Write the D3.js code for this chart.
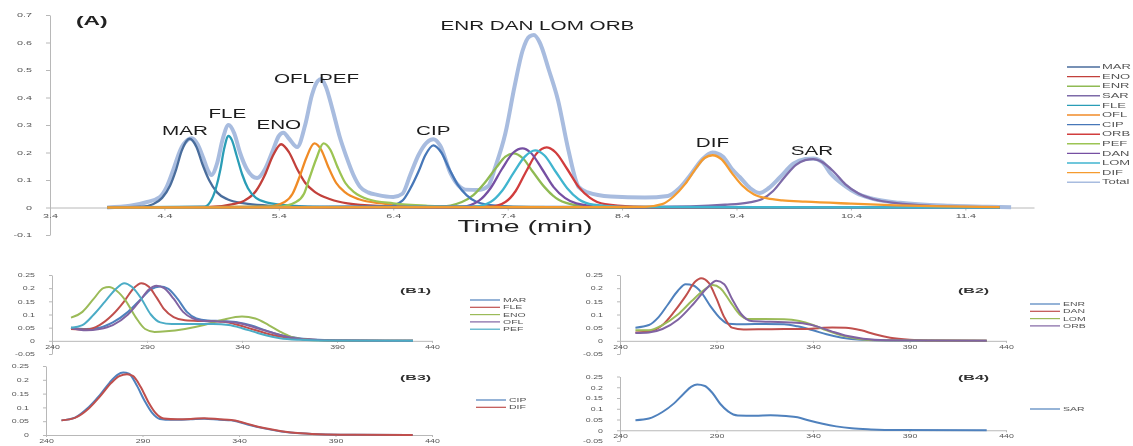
<!DOCTYPE html>
<html>
<head>
<meta charset="utf-8">
<script src="https://cdn.jsdelivr.net/npm/d3@7"></script>
<style>
  body { margin: 0; background: #fff; }
  text { font-family: "Liberation Sans", Arial, sans-serif; }
</style>
</head>
<body>
<svg id="chart" width="1133" height="446"></svg>
<script>
// ---------- panel (A): chromatogram, [time (min), absorbance] ----------
const xTicksA = [3.4, 4.4, 5.4, 6.4, 7.4, 8.4, 9.4, 10.4, 11.4];
const yTicksA = [-0.1, 0, 0.1, 0.2, 0.3, 0.4, 0.5, 0.6, 0.7];
const namesA = ["MAR", "ENO", "ENR", "SAR", "FLE", "OFL", "CIP", "ORB", "PEF", "DAN", "LOM", "DIF", "Total"];

const marA = [[3.9,0],[4.2,0.003],[4.3,0.012],[4.38,0.035],[4.45,0.08],[4.5,0.135],[4.55,0.205],[4.62,0.25],[4.68,0.22],[4.73,0.16],[4.79,0.1],[4.86,0.055],[4.95,0.03],[5.1,0.015],[5.3,0.007],[5.6,0.002],[6,0],[11.7,0]];
const enoA = [[3.9,0],[4.8,0.002],[5.0,0.012],[5.1,0.025],[5.2,0.06],[5.28,0.12],[5.35,0.19],[5.42,0.23],[5.49,0.2],[5.56,0.14],[5.63,0.09],[5.72,0.055],[5.85,0.03],[6.0,0.015],[6.3,0.005],[6.7,0.001],[11.7,0]];
const enrA = [[3.9,0],[6.8,0.003],[7.0,0.02],[7.1,0.045],[7.2,0.09],[7.3,0.145],[7.38,0.185],[7.45,0.197],[7.53,0.18],[7.62,0.13],[7.72,0.075],[7.82,0.035],[7.95,0.012],[8.1,0.004],[8.4,0.001],[11.7,0]];
const sarA = [[3.9,0],[8.4,0.001],[9.0,0.004],[9.3,0.01],[9.5,0.018],[9.62,0.03],[9.72,0.06],[9.82,0.11],[9.92,0.155],[10.0,0.172],[10.07,0.176],[10.15,0.165],[10.25,0.13],[10.35,0.085],[10.47,0.05],[10.6,0.03],[10.8,0.016],[11.1,0.006],[11.4,0.002],[11.7,0]];
const fleA = [[3.9,0],[4.75,0.003],[4.8,0.02],[4.85,0.07],[4.89,0.14],[4.92,0.21],[4.96,0.26],[4.99,0.245],[5.03,0.19],[5.08,0.12],[5.13,0.07],[5.2,0.035],[5.3,0.018],[5.5,0.007],[5.8,0.002],[11.7,0]];
const oflA = [[3.9,0],[5.3,0.003],[5.45,0.02],[5.52,0.05],[5.58,0.11],[5.64,0.18],[5.71,0.233],[5.77,0.21],[5.83,0.15],[5.9,0.09],[5.98,0.055],[6.1,0.03],[6.3,0.015],[6.6,0.006],[7.0,0.002],[11.7,0]];
const cipA = [[3.9,0],[6.35,0.003],[6.48,0.025],[6.55,0.07],[6.62,0.13],[6.68,0.19],[6.75,0.226],[6.82,0.2],[6.89,0.14],[6.96,0.085],[7.04,0.045],[7.13,0.02],[7.3,0.007],[7.6,0.002],[11.7,0]];
const orbA = [[3.9,0],[7.25,0.003],[7.38,0.02],[7.47,0.06],[7.56,0.13],[7.65,0.195],[7.74,0.219],[7.82,0.2],[7.92,0.14],[8.02,0.075],[8.12,0.035],[8.25,0.012],[8.5,0.003],[8.8,0.001],[11.7,0]];
const pefA = [[3.9,0],[5.4,0.003],[5.55,0.02],[5.62,0.05],[5.67,0.11],[5.73,0.18],[5.79,0.233],[5.85,0.21],[5.91,0.15],[5.98,0.09],[6.06,0.055],[6.18,0.03],[6.4,0.015],[6.7,0.006],[7.1,0.002],[11.7,0]];
const danA = [[3.9,0],[7.0,0.003],[7.15,0.025],[7.25,0.07],[7.35,0.14],[7.45,0.2],[7.53,0.215],[7.6,0.2],[7.7,0.14],[7.8,0.075],[7.9,0.035],[8.0,0.015],[8.2,0.004],[8.5,0.001],[11.7,0]];
const lomA = [[3.9,0],[7.1,0.003],[7.25,0.02],[7.35,0.06],[7.45,0.125],[7.55,0.185],[7.64,0.208],[7.72,0.19],[7.82,0.13],[7.92,0.07],[8.02,0.03],[8.15,0.01],[8.4,0.002],[11.7,0]];
const difA = [[3.9,0],[8.6,0.002],[8.75,0.012],[8.85,0.04],[8.95,0.085],[9.05,0.145],[9.12,0.18],[9.19,0.19],[9.27,0.175],[9.36,0.125],[9.45,0.08],[9.55,0.048],[9.67,0.033],[9.8,0.026],[10.0,0.021],[10.4,0.014],[10.8,0.008],[11.2,0.004],[11.7,0.001]];
const totalA = [[3.9,0],[4.1,0.006],[4.25,0.02],[4.36,0.038],[4.42,0.075],[4.48,0.14],[4.54,0.21],[4.6,0.245],[4.64,0.252],[4.69,0.23],[4.74,0.18],[4.78,0.135],[4.81,0.118],[4.86,0.16],[4.91,0.25],[4.96,0.3],[5.01,0.27],[5.06,0.2],[5.12,0.14],[5.21,0.107],[5.28,0.14],[5.35,0.21],[5.4,0.26],[5.44,0.272],[5.49,0.25],[5.56,0.22],[5.63,0.3],[5.69,0.41],[5.74,0.46],[5.77,0.467],[5.81,0.44],[5.87,0.355],[5.93,0.26],[5.99,0.185],[6.05,0.12],[6.11,0.075],[6.18,0.055],[6.26,0.046],[6.4,0.038],[6.48,0.05],[6.55,0.12],[6.62,0.19],[6.69,0.235],[6.75,0.248],[6.81,0.225],[6.9,0.125],[6.97,0.08],[7.03,0.065],[7.15,0.064],[7.23,0.078],[7.29,0.145],[7.38,0.27],[7.46,0.44],[7.53,0.57],[7.59,0.622],[7.63,0.627],[7.68,0.6],[7.76,0.5],[7.84,0.39],[7.93,0.21],[8.02,0.075],[8.1,0.055],[8.3,0.04],[8.6,0.036],[8.8,0.042],[8.9,0.07],[9.0,0.12],[9.1,0.175],[9.19,0.2],[9.28,0.185],[9.36,0.14],[9.43,0.11],[9.52,0.07],[9.6,0.053],[9.68,0.07],[9.78,0.11],[9.9,0.16],[10.0,0.176],[10.07,0.178],[10.15,0.165],[10.22,0.125],[10.35,0.078],[10.45,0.052],[10.57,0.034],[10.83,0.017],[11.27,0.006],[11.6,0.003],[11.8,0.001]];

const peakLabels = ["MAR", "FLE", "ENO", "OFL PEF", "CIP", "ENR DAN LOM ORB", "DIF", "SAR"];
const peakLabelAt = [[4.58,0.264],[4.95,0.325],[5.4,0.285],[5.73,0.453],[6.75,0.264],[7.66,0.645],[9.19,0.22],[10.06,0.19]];

// ---------- panels (B1-B4): UV spectra, [wavelength (nm), absorbance] ----------
const xTicksB = [240, 290, 340, 390, 440];
const yTicksB = [-0.05, 0, 0.05, 0.1, 0.15, 0.2, 0.25];
const yTicksB3 = [0, 0.05, 0.1, 0.15, 0.2, 0.25];

const namesB1 = ["MAR", "FLE", "ENO", "OFL", "PEF"];
const marB1 = [[250,0.05],[258,0.045],[265,0.05],[272,0.07],[280,0.11],[287,0.16],[292,0.195],[297,0.206],[301,0.198],[306,0.16],[311,0.11],[316,0.085],[322,0.077],[330,0.075],[338,0.07],[345,0.058],[352,0.04],[360,0.022],[370,0.01],[380,0.004],[395,0.001],[430,0]];
const fleB1 = [[250,0.045],[258,0.043],[265,0.06],[272,0.1],[278,0.15],[283,0.2],[287,0.219],[291,0.205],[295,0.165],[299,0.12],[304,0.09],[310,0.078],[320,0.075],[330,0.072],[338,0.06],[345,0.045],[352,0.03],[360,0.016],[370,0.007],[380,0.003],[395,0.001],[430,0]];
const enoB1 = [[250,0.088],[256,0.11],[262,0.16],[267,0.2],[270,0.204],[274,0.19],[279,0.15],[284,0.09],[289,0.045],[294,0.034],[300,0.036],[310,0.045],[320,0.06],[330,0.08],[340,0.092],[347,0.085],[354,0.06],[360,0.035],[366,0.015],[372,0.006],[380,0.002],[400,0],[430,0]];
const oflB1 = [[250,0.05],[258,0.04],[265,0.045],[272,0.06],[280,0.1],[286,0.15],[291,0.195],[295,0.209],[299,0.2],[304,0.16],[309,0.11],[314,0.085],[320,0.075],[330,0.073],[340,0.065],[347,0.05],[355,0.033],[362,0.018],[370,0.008],[380,0.003],[395,0.001],[430,0]];
const pefB1 = [[250,0.05],[256,0.06],[262,0.1],[268,0.15],[274,0.2],[278,0.219],[282,0.205],[287,0.16],[292,0.1],[297,0.07],[303,0.064],[315,0.064],[325,0.064],[333,0.06],[340,0.048],[346,0.035],[353,0.02],[360,0.01],[370,0.004],[385,0.001],[430,0]];

const namesB2 = ["ENR", "DAN", "LOM", "ORB"];
const enrB2 = [[248,0.05],[255,0.06],[260,0.09],[265,0.14],[270,0.19],[274,0.215],[278,0.21],[282,0.185],[287,0.13],[292,0.085],[296,0.065],[305,0.063],[315,0.064],[325,0.063],[332,0.055],[340,0.04],[347,0.025],[355,0.012],[365,0.004],[380,0.001],[430,0]];
const danB2 = [[248,0.032],[255,0.035],[262,0.06],[268,0.11],[274,0.17],[279,0.225],[282,0.238],[286,0.22],[290,0.16],[294,0.09],[298,0.05],[304,0.043],[315,0.044],[325,0.045],[335,0.045],[343,0.048],[350,0.051],[357,0.05],[365,0.04],[372,0.025],[380,0.012],[390,0.004],[400,0.001],[430,0]];
const lomB2 = [[248,0.04],[255,0.04],[262,0.06],[270,0.1],[277,0.15],[283,0.19],[288,0.212],[292,0.2],[297,0.15],[302,0.1],[306,0.083],[315,0.083],[325,0.082],[333,0.075],[340,0.06],[347,0.04],[355,0.02],[363,0.008],[375,0.002],[430,0]];
const orbB2 = [[248,0.03],[255,0.032],[262,0.045],[270,0.08],[278,0.14],[285,0.2],[290,0.228],[294,0.215],[298,0.16],[303,0.1],[308,0.075],[318,0.072],[328,0.07],[336,0.065],[342,0.055],[350,0.035],[358,0.018],[366,0.008],[378,0.002],[430,0]];

const namesB3 = ["CIP", "DIF"];
const cipB3 = [[248,0.053],[255,0.063],[262,0.1],[268,0.145],[273,0.19],[277,0.218],[280,0.226],[283,0.222],[287,0.18],[291,0.125],[295,0.08],[299,0.058],[305,0.055],[315,0.057],[322,0.059],[330,0.055],[336,0.053],[340,0.047],[346,0.035],[353,0.024],[362,0.013],[372,0.006],[385,0.002],[400,0.001],[430,0]];
const difB3 = [[248,0.053],[255,0.062],[262,0.095],[268,0.14],[274,0.19],[278,0.213],[282,0.22],[285,0.214],[289,0.175],[293,0.12],[297,0.078],[301,0.06],[308,0.057],[315,0.058],[322,0.061],[330,0.057],[336,0.054],[340,0.049],[346,0.037],[353,0.025],[362,0.014],[372,0.006],[385,0.002],[400,0.001],[430,0]];

const namesB4 = ["SAR"];
const sarB4 = [[248,0.047],[255,0.055],[262,0.085],[268,0.125],[273,0.17],[277,0.203],[280,0.213],[284,0.206],[288,0.172],[292,0.122],[296,0.088],[301,0.069],[310,0.068],[318,0.07],[326,0.066],[332,0.06],[338,0.045],[345,0.03],[352,0.018],[360,0.009],[370,0.004],[385,0.001],[430,0]];

// ---------- styles ----------
const colorA = {
  MAR: "#4a6d9c", ENO: "#c23f3a", ENR: "#8fba52", SAR: "#7d6ba8", FLE: "#2b9db6",
  OFL: "#f08b26", CIP: "#4677b8", ORB: "#d13c3c", PEF: "#9cc453", DAN: "#7650a2",
  LOM: "#40b5cf", DIF: "#f59b2f", Total: "#a8bcdf"
};
const paletteB = ["#4f81bd", "#c0504d", "#9bbb59", "#8064a2", "#4bacc6"];
const axisGrey = "#b8b8b8";
const labelGrey = "#555";

const svg = d3.select("#chart");
svg.append("defs").append("filter").attr("id", "soft")
  .append("feGaussianBlur").attr("stdDeviation", 0.45);
const root = svg.append("g").attr("filter", "url(#soft)");

// widen text horizontally (the source picture is stretched sideways)
function stretch(sel, k) {
  sel.each(function () {
    const w = this.getComputedTextLength();
    d3.select(this).attr("textLength", w * k).attr("lengthAdjust", "spacingAndGlyphs");
  });
}

function styleAxis(g, k) {
  g.select(".domain").attr("stroke", axisGrey);
  g.selectAll(".tick line").attr("stroke", axisGrey);
  g.selectAll(".tick text").attr("fill", labelGrey).attr("font-family", "Liberation Sans, Arial, sans-serif");
  stretch(g.selectAll(".tick text"), k);
}

// ================= panel A =================
const xA = d3.scaleLinear().domain([3.4, 12.0]).range([50, 1034]);
const yA = d3.scaleLinear().domain([-0.1, 0.7]).range([235, 15]);

const gA = root.append("g");
gA.append("g")
  .attr("transform", "translate(" + xA(3.4) + ",0)")
  .call(d3.axisLeft(yA).tickValues(yTicksA).tickSize(4).tickSizeOuter(0).tickPadding(14)
    .tickFormat(d => String(d)))
  .attr("font-size", 6)
  .call(g => styleAxis(g, 1.8));
gA.append("g")
  .attr("transform", "translate(0," + yA(0) + ")")
  .call(d3.axisBottom(xA).tickValues(xTicksA).tickSize(3).tickSizeOuter(0).tickPadding(3)
    .tickFormat(d => String(d)))
  .attr("font-size", 6)
  .call(g => styleAxis(g, 1.8));

const seriesA = {
  MAR: marA, ENO: enoA, ENR: enrA, SAR: sarA, FLE: fleA, OFL: oflA, CIP: cipA,
  ORB: orbA, PEF: pefA, DAN: danA, LOM: lomA, DIF: difA, Total: totalA
};
const lineA = d3.line().x(d => xA(d[0])).y(d => yA(d[1])).curve(d3.curveMonotoneX);

// total first so the single peaks stay visible on top of it
const drawOrder = ["Total"].concat(namesA.filter(n => n !== "Total"));
gA.selectAll("path.series")
  .data(drawOrder)
  .join("path")
  .attr("class", "series")
  .attr("fill", "none")
  .attr("stroke", n => colorA[n])
  .attr("stroke-width", n => n === "Total" ? 4 : 2.3)
  .attr("stroke-linejoin", "round")
  .attr("d", n => lineA(seriesA[n]));

gA.selectAll("text.peak")
  .data(peakLabels)
  .join("text")
  .attr("class", "peak")
  .attr("x", (d, i) => xA(peakLabelAt[i][0]))
  .attr("y", (d, i) => yA(peakLabelAt[i][1]))
  .attr("text-anchor", "middle")
  .attr("font-size", 12)
  .attr("fill", "#1e1e1e")
  .text(d => d)
  .call(s => stretch(s, 1.72));

gA.append("text")
  .attr("x", 76).attr("y", 25)
  .attr("font-size", 12).attr("font-weight", "bold").attr("fill", "#222")
  .text("(A)")
  .call(s => stretch(s, 1.9));

gA.append("text")
  .attr("x", 525).attr("y", 232)
  .attr("text-anchor", "middle")
  .attr("font-size", 16).attr("fill", "#222")
  .text("Time (min)")
  .call(s => stretch(s, 1.78));

const legA = gA.append("g").selectAll("g")
  .data(namesA)
  .join("g")
  .attr("transform", (d, i) => "translate(1067," + (67 + i * 9.6) + ")");
legA.append("line")
  .attr("x1", 0).attr("x2", 33)
  .attr("stroke", d => colorA[d]).attr("stroke-width", 1.4);
legA.append("text")
  .attr("x", 35).attr("dy", "0.35em")
  .attr("font-size", 6.5).attr("fill", labelGrey)
  .text(d => d)
  .call(s => stretch(s, 2.0));

// ================= panels B1-B4 =================
const panelsB = [
  { label: "(B1)", names: namesB1, data: [marB1, fleB1, enoB1, oflB1, pefB1],
    xr: [52, 432], yd: [-0.05, 0.25], yr: [354, 275], yt: yTicksB,
    tag: [400, 293], leg: [470, 300] },
  { label: "(B2)", names: namesB2, data: [enrB2, danB2, lomB2, orbB2],
    xr: [620, 1006], yd: [-0.05, 0.25], yr: [354, 275], yt: yTicksB,
    tag: [958, 293], leg: [1030, 304] },
  { label: "(B3)", names: namesB3, data: [cipB3, difB3],
    xr: [46, 432], yd: [0, 0.25], yr: [435, 366], yt: yTicksB3,
    tag: [400, 380], leg: [476, 400] },
  { label: "(B4)", names: namesB4, data: [sarB4],
    xr: [620, 1006], yd: [-0.05, 0.25], yr: [441, 376.5], yt: yTicksB,
    tag: [958, 380], leg: [1030, 409] }
];

panelsB.forEach(p => {
  const x = d3.scaleLinear().domain([240, 440]).range(p.xr);
  const y = d3.scaleLinear().domain(p.yd).range(p.yr);
  const g = root.append("g");

  g.append("g")
    .attr("transform", "translate(" + x(240) + ",0)")
    .call(d3.axisLeft(y).tickValues(p.yt).tickSize(3).tickSizeOuter(0).tickPadding(14)
      .tickFormat(d => String(d)))
    .attr("font-size", 5.5)
    .call(a => styleAxis(a, 1.6));
  g.append("g")
    .attr("transform", "translate(0," + y(0) + ")")
    .call(d3.axisBottom(x).tickValues(xTicksB).tickSize(2).tickSizeOuter(0).tickPadding(2)
      .tickFormat(d => String(d)))
    .attr("font-size", 5.5)
    .call(a => styleAxis(a, 1.6));

  const line = d3.line().x(d => x(d[0])).y(d => y(d[1])).curve(d3.curveMonotoneX);
  g.selectAll("path.spec")
    .data(p.data)
    .join("path")
    .attr("class", "spec")
    .attr("fill", "none")
    .attr("stroke", (d, i) => paletteB[i])
    .attr("stroke-width", 2)
    .attr("stroke-linejoin", "round")
    .attr("d", line);

  g.append("text")
    .attr("x", p.tag[0]).attr("y", p.tag[1])
    .attr("font-size", 8).attr("font-weight", "bold").attr("fill", "#333")
    .text(p.label)
    .call(s => stretch(s, 2.0));

  const leg = g.append("g").selectAll("g")
    .data(p.names)
    .join("g")
    .attr("transform", (d, i) => "translate(" + p.leg[0] + "," + (p.leg[1] + i * 7.3) + ")");
  leg.append("line")
    .attr("x1", 0).attr("x2", 30)
    .attr("stroke", (d, i) => paletteB[i]).attr("stroke-width", 1.2);
  leg.append("text")
    .attr("x", 33).attr("dy", "0.35em")
    .attr("font-size", 5.5).attr("fill", labelGrey)
    .text(d => d)
    .call(s => stretch(s, 1.9));
});
</script>
</body>
</html>
